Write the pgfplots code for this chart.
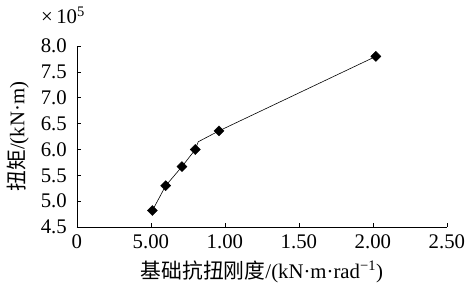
\documentclass[border=0pt]{standalone}
\usepackage{pgfplots}
\pgfplotsset{compat=1.18}
\usepackage{fontspec}
\setmainfont{Liberation Serif}
\newfontfamily\cjk{Noto Sans CJK SC}
\begin{document}
\fontsize{21}{24}\selectfont
\begin{tikzpicture}
\begin{axis}[
  scale only axis,
  width=374pt, height=183pt,
  xmin=0, xmax=2.5, ymin=4.5, ymax=8.0,
  axis x line=bottom, axis y line=left,
  axis line style={-, line width=0.8pt},
  tick align=inside,
  major tick length=4pt,
  tick style={black, line width=0.8pt},
  xtick={0,0.5,1,1.5,2,2.5},
  xticklabels={0,5.00,1.00,1.50,2.00,2.50},
  ytick={4.5,5,5.5,6,6.5,7,7.5,8},
  yticklabels={4.5,5.0,5.5,6.0,6.5,7.0,7.5,8.0},
  /pgf/number format/assume math mode=true,
  ticklabel style={font=\fontsize{21}{24}\selectfont},
  xticklabel style={yshift=0pt},
  yticklabel style={xshift=-3pt},
  xlabel={{\cjk 基础抗扭刚度}/(kN·m·rad\textsuperscript{−1})},
  ylabel={{\cjk 扭矩}/(kN·m)},
  label style={font=\fontsize{21}{24}\selectfont},
  xlabel style={yshift=2pt},
  ylabel style={yshift=-2pt},
  clip=false,
]
\addplot[black, line width=0.6pt, no marks] coordinates {
(0.51,4.82) (0.60,5.30) (0.71,5.67) (0.80,6.00) (0.82,6.15) (0.96,6.36) (2.02,7.80)
};
\addplot[only marks, mark=square*, mark options={rotate=45}, mark size=3.6pt, black] coordinates {
(0.51,4.82) (0.60,5.30) (0.71,5.67) (0.80,6.00) (0.96,6.36) (2.02,7.80)
};
\node[anchor=south] at ([xshift=-14pt,yshift=15pt]rel axis cs:0,1) {×\,10\textsuperscript{5}};
\end{axis}
\end{tikzpicture}
\end{document}
